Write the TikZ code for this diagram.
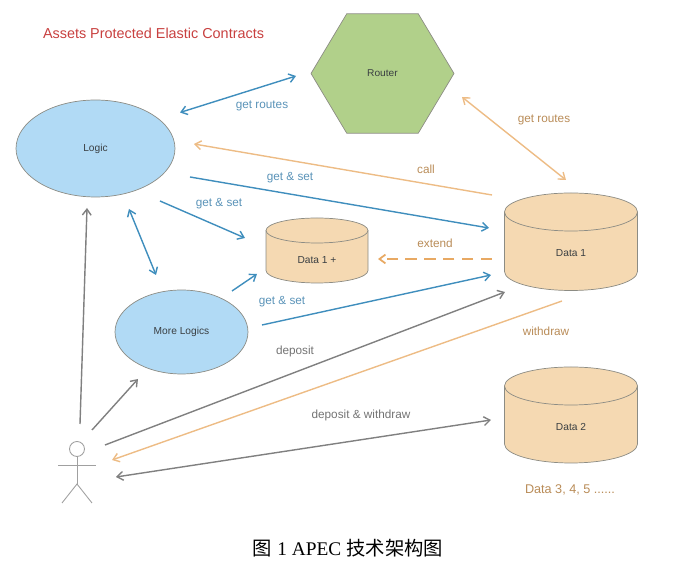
\documentclass[tikz,border=0pt]{standalone}
\usepackage{fontspec}
\setmainfont{Liberation Sans}
\newfontfamily\capfont{Liberation Serif}
\newfontfamily\cjk{Noto Sans CJK SC}
\definecolor{APECred}{HTML}{C8403F}
\definecolor{APECblue}{HTML}{3F8EBD}
\definecolor{APECbluetext}{HTML}{5A93B8}
\definecolor{APECorange}{HTML}{EDBC85}
\definecolor{APECdash}{HTML}{E8A963}
\definecolor{APECorangetext}{HTML}{B98C58}
\definecolor{APECgray}{HTML}{808080}
\definecolor{APECsky}{HTML}{B1DAF5}
\definecolor{APECsand}{HTML}{F5D9B2}
\definecolor{APECgreen}{HTML}{B1D08A}
\definecolor{APECedge}{HTML}{8C8C84}
\definecolor{APECink}{HTML}{3A3F42}
\usetikzlibrary{arrows.meta, shapes.geometric}
% centre x, top y, x radius, y radius, bottom y
\newcommand{\storedrum}[5]{
   \draw[draw=APECedge, fill=APECsand] (#1-#3,#2+#4) -- (#1-#3,#5-#4)
      arc[start angle=180, end angle=0, x radius=#3, y radius=#4] -- (#1+#3,#2+#4)
      arc[start angle=0, end angle=-180, x radius=#3, y radius=#4] -- cycle;
   \draw[draw=APECedge] (#1-#3,#2+#4) arc[start angle=180, end angle=0, x radius=#3, y radius=#4];
}

\begin{document}
\begin{tikzpicture}[x=0.02cm, y=-0.02cm,
   blue line/.style={draw=APECblue, line width=0.8pt, arrows={-Straight Barb[length=3.4pt,width=5pt]}},
   orange line/.style={draw=APECorange, line width=0.8pt, arrows={-Straight Barb[length=3.4pt,width=5pt]}},
   gray line/.style={draw=APECgray, line width=0.8pt, arrows={-Straight Barb[length=3.4pt,width=5pt]}},
   both/.style={arrows={Straight Barb[length=3.4pt,width=5pt]-Straight Barb[length=3.4pt,width=5pt]}},
   logic/.style={ellipse, draw=APECedge, fill=APECsky, inner sep=0pt, text=APECink, font=\fontsize{5.8}{7}\selectfont},
   store/.style={inner sep=0pt, text=APECink, font=\fontsize{5.8}{7}\selectfont},
   bluetext/.style={text=APECbluetext, font=\fontsize{6.7}{8}\selectfont},
   orangetext/.style={text=APECorangetext, font=\fontsize{6.7}{8}\selectfont},
   graytext/.style={text=APECgray!90!black, font=\fontsize{6.7}{8}\selectfont},
   stick/.style={draw=APECgray!75, line width=0.5pt}]
      \useasboundingbox (0,0) rectangle (674,570);
      % Title and caption
      \node[text=APECred, font=\fontsize{8.2}{10}\selectfont] (Title) at (153.5,33.5) {Assets Protected Elastic Contracts};
      \node[font=\fontsize{11}{13}\selectfont] (Caption) at (348,548) {{\cjk 图} {\capfont 1 APEC} {\cjk 技术架构图}};
      % Shapes
      \node[logic, minimum width=3.18cm, minimum height=1.94cm] (Logic) at (95.5,148.5) {Logic};
      \node[logic, minimum width=2.66cm, minimum height=1.68cm] (MoreLogics) at (181.5,332) {More Logics};
      \node[regular polygon, regular polygon sides=6, minimum size=2.86cm, yscale=0.965, transform shape, inner sep=0pt, draw=APECedge, fill=APECgreen, text=APECink, font=\fontsize{5.8}{7}\selectfont] (Router) at (382.5,73.5) {Router};
      % Drums
      \storedrum{571}{193}{66.5}{19}{290.5}
      \node[store] (DataOne) at (571,253) {Data 1};
      \storedrum{571}{367}{66.5}{19}{463}
      \node[store] (DataTwo) at (571,426.5) {Data 2};
      \storedrum{317}{218}{51}{12.5}{283}
      \node[store] (DataPlus) at (317,260.5) {Data 1 +};
      % Person
      \node[circle, stick, minimum size=0.3cm, inner sep=0pt] (Head) at (77,449) {};
      \coordinate (Hip) at (77,484);
      \coordinate (ArmL) at (58,465);
      \coordinate (ArmR) at (96,465);
      \coordinate (FootL) at (62,503);
      \coordinate (FootR) at (92,503);
      \draw[stick] (Head) -- (Hip);
      \draw[stick] (ArmL) -- (ArmR);
      \draw[stick] (FootL) -- (Hip) -- (FootR);
      % Arrow ends
      \coordinate (a1) at (180,112.5);
      \coordinate (a2) at (296,76);
      \coordinate (b1) at (462,97);
      \coordinate (b2) at (566,180);
      \coordinate (c1) at (492,195);
      \coordinate (c2) at (194,144);
      \coordinate (d1) at (190,177);
      \coordinate (d2) at (489,228);
      \coordinate (e1) at (160,201);
      \coordinate (e2) at (245,238);
      \coordinate (f1) at (129,209);
      \coordinate (f2) at (156,275);
      \coordinate (g1) at (232,291);
      \coordinate (g2) at (257,274);
      \coordinate (h1) at (262,325);
      \coordinate (h2) at (491,275);
      \coordinate (i1) at (492,259);
      \coordinate (i2) at (378,259);
      \coordinate (j1) at (80,424);
      \coordinate (j2) at (87,208);
      \coordinate (k1) at (92,430);
      \coordinate (k2) at (138,379);
      \coordinate (l1) at (105,445);
      \coordinate (l2) at (505,292);
      \coordinate (m1) at (562,301);
      \coordinate (m2) at (112,460);
      \coordinate (n1) at (116,477);
      \coordinate (n2) at (491,420);
      % Blue arrows
      \draw[blue line, both] (a1) -- (a2);
      \draw[blue line] (d1) -- (d2);
      \draw[blue line] (e1) -- (e2);
      \draw[blue line, both] (f1) -- (f2);
      \draw[blue line] (g1) -- (g2);
      \draw[blue line] (h1) -- (h2);
      % Orange arrows
      \draw[orange line, both] (b1) -- (b2);
      \draw[orange line] (c1) -- (c2);
      \draw[orange line] (m1) -- (m2);
      \draw[orange line, draw=APECdash, line width=1pt, dash pattern=on 6.5pt off 4.2pt] (i1) -- (i2);
      % Gray arrows
      \draw[gray line] (j1) -- (j2);
      \draw[gray line] (k1) -- (k2);
      \draw[gray line] (l1) -- (l2);
      \draw[gray line, both] (n1) -- (n2);
      % Labels
      \node[bluetext] (LblRoutesA) at (262,106) {get routes};
      \node[bluetext] (LblSetA) at (290,178) {get \& set};
      \node[bluetext] (LblSetB) at (219,203.5) {get \& set};
      \node[bluetext] (LblSetC) at (282,301.5) {get \& set};
      \node[orangetext] (LblRoutesB) at (544,120) {get routes};
      \node[orangetext] (LblCall) at (426,169) {call};
      \node[orangetext] (LblExtend) at (435,243) {extend};
      \node[orangetext] (LblWithdraw) at (546,331) {withdraw};
      \node[orangetext, font=\fontsize{7.2}{8}\selectfont] (LblMore) at (570,489.5) {Data 3, 4, 5 ......};
      \node[graytext] (LblDeposit) at (295,351) {deposit};
      \node[graytext] (LblBoth) at (361,415) {deposit \& withdraw};
   \end{tikzpicture}
\end{document}
